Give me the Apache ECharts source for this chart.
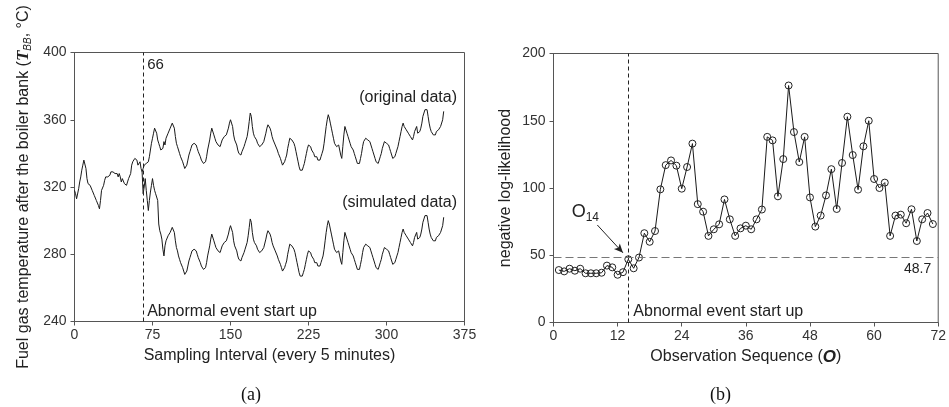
<!DOCTYPE html>
<html><head><meta charset="utf-8">
<script src="https://cdn.jsdelivr.net/npm/echarts@6.0.0/dist/echarts.min.js"></script>
<style>html,body{margin:0;padding:0;background:#fff}#c{width:949px;height:407px}</style>
</head><body><div id="c"></div>
<script>
// ---------- Panel (a): fuel gas temperature, samples 0..355 ----------
const origTemp = [
318,316,313,314,319,323,326,330,333,336,
337,331,325,322,323,321,320,318,317,315,
314,312,311,309,307,312,318,317,321,324,
326,325,326,326,327,329,328,329,328,328,
328,328,326,328,326,323,325,324,322,321,
321,323,325,326,328,333,335,336,337,338,
336,333,332,335,331,329,331,333,332,334,
333,335,338,342,346,349,352,355,356,352,
348,346,344,342,341,343,347,345,349,350,
352,353,355,356,358,358,355,350,346,344,
342,340,338,337,335,333,331,330,333,336,
339,341,343,345,346,346,345,345,343,341,
340,338,336,335,334,333,335,338,342,345,
348,352,355,355,351,349,347,346,345,344,
344,346,348,349,350,351,351,352,355,358,
360,360,356,351,348,347,345,342,340,339,
339,341,342,344,346,347,350,354,359,364,
362,356,352,350,349,348,346,345,344,345,
345,346,347,348,352,355,357,356,355,353,
350,348,347,345,344,342,340,339,337,335,
333,333,335,337,339,343,346,349,349,348,
348,346,344,341,338,335,332,330,329,330,
332,334,337,340,343,345,346,344,342,341,
340,338,337,338,336,337,336,338,340,342,
346,351,356,360,363,361,358,355,352,349,
346,345,344,343,345,342,339,337,344,351,
356,355,352,350,348,346,344,345,342,340,
338,336,334,333,334,337,340,344,347,348,
349,349,348,347,347,345,343,341,339,337,
335,334,334,336,338,340,343,345,347,347,
346,346,345,343,341,340,337,336,338,340,
342,344,347,350,353,356,358,356,355,354,
353,352,351,350,351,348,350,353,354,356,
352,351,353,355,358,362,364,366,367,366,
362,358,355,353,352,351,350,351,353,354,
354,355,356,357,360,365
];
const simStart = 65;   // simulated curve leaves the original one here
const simTemp = [
329,316,320,325,318,312,306,312,317,321,
325,321,318,316,317,312,298,294,292,289,
283,279,285,288,289,291,292,293,294,296,
296,293,288,284,282,
279,277,275,274,272,270,268,267,270,273,
276,278,280,282,283,283,282,282,280,278,
277,275,273,272,271,270,272,275,279,282,
285,289,292,292,288,286,284,283,282,281,
281,283,285,286,287,288,288,289,292,295,
297,297,293,288,285,284,282,279,277,276,
276,278,279,281,283,284,287,291,296,301,
299,293,289,287,286,285,283,282,281,282,
282,283,284,285,289,292,294,293,292,290,
287,285,284,282,281,279,277,276,274,272,
270,270,272,274,276,280,283,286,286,285,
285,283,281,278,275,272,269,267,266,267,
269,271,274,277,280,282,283,281,279,278,
277,275,274,275,273,274,273,275,277,279,
283,288,293,297,300,298,295,292,289,286,
283,282,281,280,282,279,276,274,281,288,
293,292,289,287,285,283,281,282,279,277,
275,273,271,270,271,274,277,281,284,285,
286,286,285,284,284,282,280,278,276,274,
272,271,271,273,275,277,280,282,284,284,
283,283,282,280,278,277,274,273,275,277,
279,281,284,287,290,293,295,293,292,291,
290,289,288,287,288,285,287,290,291,293,
289,288,290,292,295,299,301,303,304,303,
299,295,292,290,289,288,287,288,290,291,
291,292,293,294,297,302
];
const eventSample = 66;
const xTicksA = [0, 375, 75];      // min, max, interval
const yTicksA = [240, 400, 40];

// ---------- Panel (b): negative log-likelihood, observations 1..71 ----------
const nll = [
39,38,40,38.5,40,36.6,36.6,36.6,37,42.3,
41,35.5,37.4,47,40.3,48.3,66.4,60,68,99,
117,120.5,116.6,99.5,115.6,133,88,82.4,64.4,69.3,
73,91.5,76.7,64.4,70,72,69.3,76.7,84,138,
135.4,93.8,121.5,176.2,141.6,119.3,138,93,71.3,79.5,
94.5,114,84.4,118.6,153,124.5,98.8,131,150,106.7,
100,104,64.4,79.5,80.2,73.8,84.2,60.6,76.7,81.4,
73.2
];
const threshold = 48.7;
const eventObs = 14;
const xTicksB = [0, 72, 12];
const yTicksB = [0, 200, 50];

const AX = '#555', TXT = '#333', LINE = '#1a1a1a';
const FONT = 'Liberation Sans, Arial, sans-serif';
const LBL = {color:TXT, fontSize:14, fontFamily:FONT};

function axisCommon(extra){
  return Object.assign({
    axisLine:{show:true, onZero:false, lineStyle:{color:AX, width:1}},
    axisTick:{show:true, length:4, lineStyle:{color:AX}},
    axisLabel:Object.assign({margin:7}, LBL),
    splitLine:{show:false},
    nameLocation:'middle',
    nameTextStyle:{color:'#222', fontSize:16, fontFamily:FONT}
  }, extra);
}

const chart = echarts.init(document.getElementById('c'), null, {renderer:'canvas'});

chart.setOption({
  animation:false,
  backgroundColor:'#fff',
  grid:[
    {left:74.5, top:52.5, width:390, height:269, show:true, borderColor:AX, borderWidth:1},
    {left:553.5, top:53.5, width:390.5, height:269, show:true, borderColor:AX, borderWidth:1}
  ],
  xAxis:[
    axisCommon({gridIndex:0, type:'value', min:xTicksA[0], max:xTicksA[1], interval:xTicksA[2],
      name:'Sampling Interval (every 5 minutes)', nameGap:24}),
    axisCommon({gridIndex:1, type:'value', min:xTicksB[0], max:xTicksB[1], interval:xTicksB[2],
      name:'Observation Sequence ({o|O})', nameGap:24,
      nameTextStyle:{color:'#222', fontSize:16, fontFamily:FONT,
        rich:{o:{fontSize:17, fontWeight:'bold', fontStyle:'italic', fontFamily:FONT, color:'#222'}}}})
  ],
  yAxis:[
    axisCommon({gridIndex:0, type:'value', min:yTicksA[0], max:yTicksA[1], interval:yTicksA[2],
      name:'{n|Fuel gas temperature after the boiler bank (}{t|T}{s|BB}{n|, °C)}', nameGap:41,
      axisLabel:Object.assign({margin:8}, LBL),
      nameTextStyle:{color:'#222', fontSize:16, fontFamily:FONT,
        rich:{
          n:{fontSize:16, fontFamily:FONT, color:'#222', lineHeight:20},
          t:{fontSize:17, fontFamily:'Liberation Serif, serif', fontWeight:'bold', fontStyle:'italic', color:'#222', lineHeight:20},
          s:{fontSize:10, fontFamily:FONT, fontStyle:'italic', color:'#222', verticalAlign:'bottom', lineHeight:12}
        }}}),
    axisCommon({gridIndex:1, type:'value', min:yTicksB[0], max:yTicksB[1], interval:yTicksB[2],
      name:'negative log-likelihood', nameGap:40,
      axisLabel:Object.assign({margin:8}, LBL)})
  ],
  series:[
    {type:'line', xAxisIndex:0, yAxisIndex:0, showSymbol:false, silent:true,
     lineStyle:{color:LINE, width:1},
     data: origTemp.map((v,i)=>[i,v]),
     markLine:{silent:true, symbol:['none','none'], label:{show:false},
       lineStyle:{color:'#222', width:1, type:[4,3]},
       data:[{xAxis:eventSample}]}},
    {type:'line', xAxisIndex:0, yAxisIndex:0, showSymbol:false, silent:true,
     lineStyle:{color:LINE, width:1},
     data: simTemp.map((v,i)=>[i+simStart,v])},
    {type:'line', xAxisIndex:1, yAxisIndex:1, symbol:'circle', symbolSize:7, showSymbol:true, silent:true,
     lineStyle:{color:LINE, width:1},
     itemStyle:{color:'rgba(0,0,0,0)', borderColor:'#222', borderWidth:1},
     data: nll.map((v,i)=>[i+1,v]),
     markLine:{silent:true, symbol:['none','none'], label:{show:false},
       data:[
         {xAxis:eventObs, lineStyle:{color:'#222', width:1, type:[4,3]}},
         {yAxis:threshold, lineStyle:{color:'#777', width:1.2, type:[8,4]}},
         [{coord:[8.2,72.5], symbol:'none', lineStyle:{color:'#222', width:1, type:'solid'}},
          {coord:[13.0,51.8], symbol:'arrow', symbolSize:[6,9], lineStyle:{color:'#222', width:1, type:'solid'}}]
       ]}}
  ]
});

// ---------- annotations, placed through the axes ----------
function px(g, x, y){ return chart.convertToPixel({gridIndex:g}, [x, y]); }
const tStyle = (t, align, vAlign, size) => ({text:t, fill:'#222', font:(size||13)+'px '+FONT, textAlign:align, textVerticalAlign:vAlign});
const p66 = px(0, eventSample, 400);
const pOrig = px(0, 367.8, 373);
const pSim = px(0, 367.8, 311);
const pAbA = px(0, eventSample, 246);
const p487 = px(1, 70.7, 40);
const pAbB = px(1, eventObs, 8);
const pO = px(1, 3.4, 82);

chart.setOption({
  graphic:[
    {type:'text', x:p66[0]+4, y:p66[1]+5, style:tStyle('66','left','top',15)},
    {type:'text', x:pOrig[0], y:pOrig[1], style:tStyle('(original data)','right','middle',16)},
    {type:'text', x:pSim[0], y:pSim[1], style:tStyle('(simulated data)','right','middle',16)},
    {type:'text', x:pAbA[0]+4, y:pAbA[1], style:tStyle('Abnormal event start up','left','middle',16)},
    {type:'text', x:p487[0], y:p487[1], style:tStyle('48.7','right','middle',14)},
    {type:'text', x:pAbB[0]+5, y:pAbB[1], style:tStyle('Abnormal event start up','left','middle',16)},
    {type:'text', x:pO[0], y:pO[1], style:{
      text:'{o|O}{s|14}', textVerticalAlign:'middle', textAlign:'left',
      rich:{o:{fontSize:18, fontFamily:FONT, fill:'#222', lineHeight:22},
            s:{fontSize:12, fontFamily:FONT, fill:'#222', verticalAlign:'bottom', lineHeight:13}}}},
    {type:'text', left:241, top:386, style:{text:'(a)', fill:'#111', font:'18px Liberation Serif, Times New Roman, serif'}},
    {type:'text', left:710, top:386, style:{text:'(b)', fill:'#111', font:'18px Liberation Serif, Times New Roman, serif'}}
  ]
});
</script></body></html>
